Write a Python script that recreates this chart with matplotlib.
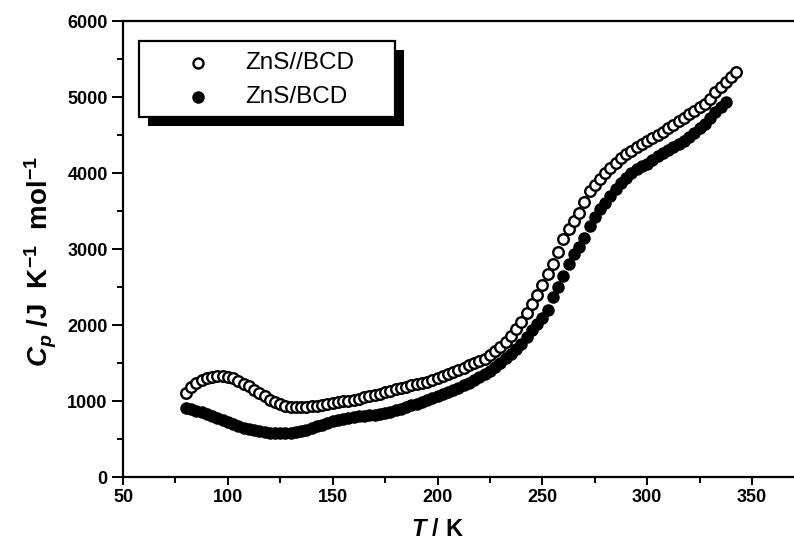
import matplotlib
matplotlib.use("Agg")
import matplotlib.pyplot as plt
from matplotlib.patches import Rectangle
from matplotlib.lines import Line2D
from matplotlib.ticker import MultipleLocator

# ---------------- data ----------------
T_open = [80.0, 82.5, 85.0, 87.5, 90.0, 92.5, 95.0, 97.5, 100.0, 102.5,
          105.0, 107.5, 110.0, 112.5, 115.0, 117.5, 120.0, 122.5, 125.0, 127.5,
          130.0, 132.5, 135.0, 137.5, 140.0, 142.5, 145.0, 147.5, 150.0, 152.5,
          155.0, 157.5, 160.0, 162.5, 165.0, 167.5, 170.0, 172.5, 175.0, 177.5,
          180.0, 182.5, 185.0, 187.5, 190.0, 192.5, 195.0, 197.5, 200.0, 202.5,
          205.0, 207.5, 210.0, 212.5, 215.0, 217.5, 220.0, 222.5, 225.0, 227.5,
          230.0, 232.5, 235.0, 237.5, 240.0, 242.5, 245.0, 247.5, 250.0, 252.5,
          255.0, 257.5, 260.0, 262.5, 265.0, 267.5, 270.0, 272.5, 275.0, 277.5,
          280.0, 282.5, 285.0, 287.5, 290.0, 292.5, 295.0, 297.5, 300.0, 302.5,
          305.0, 307.5, 310.0, 312.5, 315.0, 317.5, 320.0, 322.5, 325.0, 327.5,
          330.0, 332.5, 335.0, 337.5, 340.0, 342.5]
Cp_open = [1100, 1180, 1240, 1280, 1300, 1318, 1328, 1330, 1318, 1298,
           1265, 1230, 1195, 1150, 1105, 1060, 1015, 985, 960, 940,
           925, 915, 915, 920, 928, 938, 948, 960, 972, 985,
           995, 1005, 1018, 1032, 1050, 1065, 1082, 1098, 1115, 1135,
           1152, 1170, 1185, 1205, 1220, 1238, 1256, 1282, 1305, 1330,
           1358, 1385, 1410, 1440, 1470, 1500, 1530, 1558, 1600, 1655,
           1710, 1770, 1855, 1950, 2040, 2160, 2280, 2400, 2520, 2670,
           2800, 2960, 3130, 3260, 3370, 3480, 3620, 3760, 3840, 3920,
           4000, 4060, 4130, 4200, 4250, 4290, 4340, 4380, 4420, 4460,
           4505, 4545, 4590, 4630, 4690, 4730, 4770, 4820, 4865, 4910,
           4980, 5060, 5130, 5200, 5265, 5330]

T_fill = [80.0, 82.5, 85.0, 87.5, 90.0, 92.5, 95.0, 97.5, 100.0, 102.5,
          105.0, 107.5, 110.0, 112.5, 115.0, 117.5, 120.0, 122.5, 125.0, 127.5,
          130.0, 132.5, 135.0, 137.5, 140.0, 142.5, 145.0, 147.5, 150.0, 152.5,
          155.0, 157.5, 160.0, 162.5, 165.0, 167.5, 170.0, 172.5, 175.0, 177.5,
          180.0, 182.5, 185.0, 187.5, 190.0, 192.5, 195.0, 197.5, 200.0, 202.5,
          205.0, 207.5, 210.0, 212.5, 215.0, 217.5, 220.0, 222.5, 225.0, 227.5,
          230.0, 232.5, 235.0, 237.5, 240.0, 242.5, 245.0, 247.5, 250.0, 252.5,
          255.0, 257.5, 260.0, 262.5, 265.0, 267.5, 270.0, 272.5, 275.0, 277.5,
          280.0, 282.5, 285.0, 287.5, 290.0, 292.5, 295.0, 297.5, 300.0, 302.5,
          305.0, 307.5, 310.0, 312.5, 315.0, 317.5, 320.0, 322.5, 325.0, 327.5,
          330.0, 332.5, 335.0, 337.5]
Cp_fill = [905, 895, 870, 850, 825, 800, 780, 755, 725, 695,
           670, 650, 632, 615, 600, 590, 582, 576, 575, 578,
           585, 595, 608, 625, 645, 668, 690, 712, 732, 750,
           766, 780, 792, 800, 806, 812, 818, 828, 840, 860,
           880, 900, 920, 945, 965, 990, 1013, 1040, 1065, 1090,
           1115, 1145, 1175, 1205, 1240, 1270, 1310, 1350, 1395, 1450,
           1505, 1560, 1615, 1690, 1750, 1840, 1930, 2010, 2090, 2200,
           2370, 2500, 2640, 2800, 2930, 3030, 3150, 3300, 3420, 3530,
           3610, 3700, 3790, 3870, 3940, 4000, 4050, 4090, 4125, 4170,
           4220, 4260, 4300, 4345, 4380, 4420, 4470, 4530, 4590, 4640,
           4720, 4800, 4870, 4935]

series_labels = ["ZnS//BCD", "ZnS/BCD"]
x_ticks = [50, 100, 150, 200, 250, 300, 350]
y_ticks = [0, 1000, 2000, 3000, 4000, 5000, 6000]

# ---------------- style ----------------
plt.rcParams['font.family'] = ['Liberation Sans', 'DejaVu Sans']
plt.rcParams['mathtext.fontset'] = 'custom'
plt.rcParams['mathtext.rm'] = 'Liberation Sans:bold'
plt.rcParams['mathtext.bf'] = 'Liberation Sans:bold'
plt.rcParams['mathtext.it'] = 'Liberation Sans:bold:italic'

W, H = 794, 543
fig = plt.figure(figsize=(W / 100, H / 100), dpi=100)

x_left, x_axis_y, top_y = 123, 477, 21
px_per_K = (752 - 123) / 300.0
xmax = 375
ax_w = (xmax - 50) * px_per_K
ax_h = x_axis_y - top_y
ax = fig.add_axes([x_left / W, (H - x_axis_y) / H, ax_w / W, ax_h / H])

ax.plot(T_open, Cp_open, linestyle='none', marker='o', ms=7.6,
        mfc='white', mec='black', mew=1.7, zorder=3)
ax.plot(T_fill, Cp_fill, linestyle='none', marker='o', ms=8.0,
        mfc='black', mec='black', mew=1.0, zorder=2)

ax.set_xlim(50, xmax)
ax.set_ylim(0, 6000)
ax.set_xticks(x_ticks)
ax.set_yticks(y_ticks)
ax.xaxis.set_minor_locator(MultipleLocator(25))
ax.yaxis.set_minor_locator(MultipleLocator(500))

for s in ax.spines.values():
    s.set_linewidth(1.6)

ax.tick_params(axis='both', which='both', direction='out', width=1.4)
ax.tick_params(axis='y', which='major', length=8)
ax.tick_params(axis='y', which='minor', length=4)
ax.tick_params(axis='x', which='major', length=5.5)
ax.tick_params(axis='x', which='minor', length=4)
ax.tick_params(axis='both', which='major', labelsize=13, pad=3)
for lbl in ax.get_xticklabels() + ax.get_yticklabels():
    lbl.set_fontweight('bold')

ax.set_xlabel(r'$T$ / K', fontsize=17, fontweight='bold', va='center')
ax.xaxis.set_label_coords((437 - x_left) / ax_w, -(529 - x_axis_y) / ax_h)
ax.set_ylabel(r'$C_p$ /J  K$^{-1}$  mol$^{-1}$', fontsize=20, fontweight='bold', va='center')
ax.yaxis.set_label_coords(-(x_left - 41) / ax_w, (x_axis_y - 262) / ax_h)

# ---------------- legend box with shadow (figure pixels) ----------------
def fx(px):
    return px / W

def fy(py):
    return (H - py) / H

bx0, bx1, by0, by1 = 139, 395, 41, 117
off = 9
fig.patches.append(Rectangle((fx(bx0 + off), fy(by1 + off)), fx(bx1 - bx0), (by1 - by0) / H,
                             transform=fig.transFigure, facecolor='black',
                             edgecolor='black', lw=0, zorder=5))
fig.patches.append(Rectangle((fx(bx0), fy(by1)), fx(bx1 - bx0), (by1 - by0) / H,
                             transform=fig.transFigure, facecolor='white',
                             edgecolor='black', lw=1.6, zorder=6))

fig.add_artist(Line2D([fx(198)], [fy(63)], transform=fig.transFigure, linestyle='none',
                      marker='o', ms=7.2, mfc='white', mec='black', mew=1.7, zorder=7))
fig.add_artist(Line2D([fx(198)], [fy(97)], transform=fig.transFigure, linestyle='none',
                      marker='o', ms=8.0, mfc='black', mec='black', zorder=7))
fig.text(fx(245), fy(63), series_labels[0], fontsize=17.5, va='center', ha='left', zorder=7)
fig.text(fx(245), fy(97), series_labels[1], fontsize=17.5, va='center', ha='left', zorder=7)

fig.savefig('out.png', dpi=100)
